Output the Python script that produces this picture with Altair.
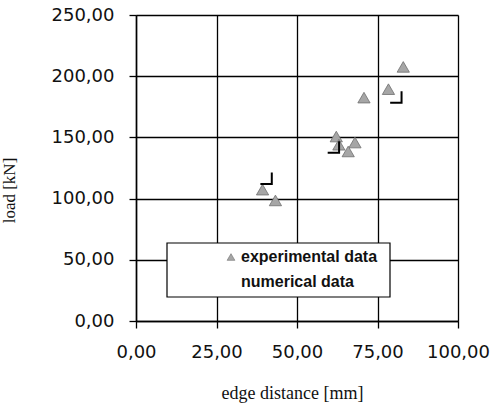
import altair as alt
import pandas as pd

# experimental data (edge distance [mm], load [kN])
exp_x = [83.0, 78.4, 70.8, 62.2, 63.0, 68.0, 65.9, 39.3, 43.3]
exp_y = [207.6, 189.4, 182.5, 150.7, 144.0, 145.8, 138.5, 107.3, 98.5]

# numerical data
num_x = [80.7, 61.3, 40.4]
num_y = [183.0, 142.2, 116.6]

x_ticks = [0, 25, 50, 75, 100]
y_ticks = [0, 50, 100, 150, 200, 250]

legend_labels = ["experimental data", "numerical data"]

exp_df = pd.DataFrame({"x": exp_x, "y": exp_y, "series": legend_labels[0]})
num_df = pd.DataFrame({"x": num_x, "y": num_y, "series": legend_labels[1]})

label_expr = "replace(format(datum.value, '.2f'), '.', ',')"

xenc = alt.X(
    "x:Q",
    scale=alt.Scale(domain=[0, 100], nice=False, zero=False),
    axis=alt.Axis(
        values=x_ticks,
        labelExpr=label_expr,
        title="edge distance [mm]",
        titleFont="Liberation Serif",
        titleFontSize=18,
        titleFontWeight="normal",
        titleColor="#111",
        titleAlign="center",
        titleBaseline="alphabetic",
        titleX=156,
        titleY=77,
        labelFont="DejaVu Sans",
        labelFontSize=18,
        labelColor="#111",
        labelPadding=15,
        tickSize=7,
        tickColor="black",
        tickWidth=1.3,
        domainColor="black",
        domainWidth=1.5,
        grid=True,
        gridColor="black",
        gridWidth=1.3,
        gridOpacity=1,
        labelFlush=False,
    ),
)
yenc = alt.Y(
    "y:Q",
    scale=alt.Scale(domain=[0, 250], nice=False, zero=False),
    axis=alt.Axis(
        values=y_ticks,
        labelExpr=label_expr,
        title="load [kN]",
        titleFont="Liberation Serif",
        titleFontSize=17,
        titleFontWeight="normal",
        titleColor="#111",
        titleAlign="center",
        titleBaseline="bottom",
        titleAngle=270,
        titleX=-118,
        titleY=175,
        labelFont="DejaVu Sans",
        labelFontSize=18,
        labelColor="#111",
        labelPadding=15,
        tickSize=7,
        tickColor="black",
        tickWidth=1.3,
        domainColor="black",
        domainWidth=1.5,
        grid=True,
        gridColor="black",
        gridWidth=1.3,
        gridOpacity=1,
        labelFlush=False,
    ),
)

tri = alt.Chart(exp_df).mark_point(
    shape="triangle-up", filled=True, fill="#a6a6a6", stroke="#6e6e6e",
    strokeWidth=0.8, size=150, opacity=1
).encode(x=xenc, y=yenc)

bracket = alt.Chart(num_df).mark_point(
    shape="M 1 -1 L 1 1 L -1 1", filled=False, stroke="black",
    strokeWidth=2, size=130, opacity=1
).encode(x="x:Q", y="y:Q")

# legend box
leg_box = alt.Chart(pd.DataFrame({"a": [0]})).mark_rect(
    fill="white", stroke="black", strokeWidth=1.2
).encode(x=alt.value(31), x2=alt.value(254), y=alt.value(228), y2=alt.value(282))

leg_tri = alt.Chart(pd.DataFrame({"a": [0]})).mark_point(
    shape="triangle-up", filled=True, fill="#a6a6a6", stroke="#6e6e6e",
    strokeWidth=0.6, size=60, opacity=1
).encode(x=alt.value(95), y=alt.value(242))

leg_text = alt.Chart(pd.DataFrame({"label": legend_labels, "yy": [242, 267]})).mark_text(
    font="Liberation Sans", fontSize=16, fontWeight="bold", color="#111",
    align="left", baseline="middle"
).encode(x=alt.value(105), y=alt.Y("yy:Q", scale=None), text="label:N")

chart = alt.layer(tri, bracket, leg_box, leg_tri, leg_text).properties(
    width=322, height=306,
    autosize=alt.AutoSizeParams(type="none"),
    padding={"left": 136, "top": 15, "right": 37, "bottom": 86},
).configure_view(stroke="black", strokeWidth=1.5).configure(background="white")

chart.save("out.html", embed_options={"renderer": "svg", "actions": False})
